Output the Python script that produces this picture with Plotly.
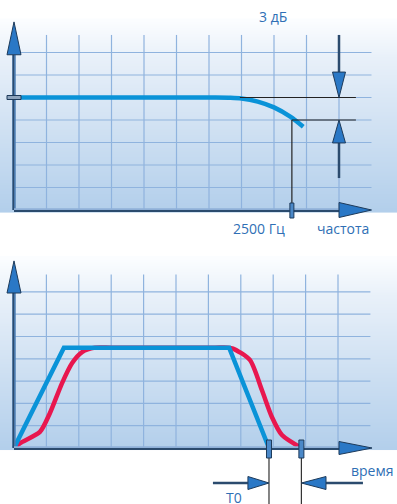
import plotly.graph_objects as go
import numpy as np

# ---------------- data (grid units) ----------------
# top panel: amplitude-frequency response
freq_x = [0, 1, 2, 3, 4, 5, 6, 6.2, 6.6, 7.0, 7.5, 8.0, 8.5, 8.9]
freq_y = [5, 5, 5, 5, 5, 5, 5, 5.0, 4.99, 4.96, 4.82, 4.56, 4.15, 3.7]
cutoff_x = 8.55          # 2500 Гц
level_ref = 5.0          # 0 dB level
level_3db = 4.0          # -3 dB level
ref_line_start = 6.95
ref_line_end = 10.52
dim_arrow_x = 10.0

# bottom panel: input pulse (blue) and output pulse (red)
pulse_in_x = [0, 1.54, 6.64, 7.87]
pulse_in_y = [0, 4.5, 4.5, 0]
pulse_out_x = [0, 0.19, 0.8, 1.11, 1.48, 1.79, 2.1, 2.5, 3.0, 4.5, 6.2, 6.6, 6.76, 7.28, 7.65, 7.96, 8.27, 8.87]
pulse_out_y = [0, 0.22, 0.72, 1.57, 2.9, 3.8, 4.3, 4.5, 4.5, 4.5, 4.5, 4.5, 4.46, 3.95, 2.6, 1.39, 0.58, 0]
t_marks = [7.87, 8.87]

grid_x = [1, 2, 3, 4, 5, 6, 7, 8, 9, 10]
grid_y = [1, 2, 3, 4, 5, 6, 7]

labels_top = {"3 дБ": (7.97, 8.58), "2500 Гц": (7.55, -0.84), "частота": (10.12, -0.84)}
labels_bot = {"время": (11.08, -0.99), "T0": (6.79, -2.2)}

# ---------------- styling ----------------
BLUE = "#0a93d8"
RED = "#e8174f"
GRID = "#8fb3de"
AXIS = "#2b4b6e"
HEAD = "#2a78c6"
TXT = "#2f6fb5"
FONT = "Open Sans"

fig = go.Figure()

# pixel scale helpers (units per px)
sx = 1 / 32.5
sy_top = 1 / 22.5
sy_bot = 1 / 22.3

def add_panel(xa, ya, sy, top_h):
    # gradient background
    ys = np.linspace(0, top_h, 40)
    z = [[v, v] for v in ys]
    fig.add_trace(go.Heatmap(x=[0, 11], y=ys, z=z, xaxis=xa, yaxis=ya, showscale=False,
                             zsmooth="best", hoverinfo="skip",
                             colorscale=[[0, "#b3cfeb"], [0.8, "#e8f0f9"], [1, "#fbfdff"]]))
    gx, gy = [], []
    for g in grid_x:
        gx += [g, g, None]
        gy += [0, 7.78, None]
    for g in grid_y:
        gx += [0, 11, None]
        gy += [g, g, None]
    fig.add_trace(go.Scatter(x=gx, y=gy, mode="lines", xaxis=xa, yaxis=ya,
                             line=dict(color=GRID, width=1.2), hoverinfo="skip"))

add_panel("x", "y", sy_top, 8.4)
add_panel("x2", "y2", sy_bot, 8.5)

fig.add_trace(go.Scatter(x=freq_x, y=freq_y, mode="lines", xaxis="x", yaxis="y",
                         line=dict(color=BLUE, width=4.5, shape="spline", smoothing=0.8)))
fig.add_trace(go.Scatter(x=pulse_out_x, y=pulse_out_y, mode="lines", xaxis="x2", yaxis="y2",
                         line=dict(color=RED, width=4.5, shape="spline", smoothing=0.7)))
fig.add_trace(go.Scatter(x=pulse_in_x, y=pulse_in_y, mode="lines", xaxis="x2", yaxis="y2",
                         line=dict(color=BLUE, width=4.5)))

shapes = []

def line(xr, yr, x0, y0, x1, y1, color=AXIS, w=2.5):
    shapes.append(dict(type="line", xref=xr, yref=yr, x0=x0, y0=y0, x1=x1, y1=y1,
                       line=dict(color=color, width=w)))

def tri(xr, yr, pts):
    p = "M " + " L ".join(f"{a},{b}" for a, b in pts) + " Z"
    shapes.append(dict(type="path", xref=xr, yref=yr, path=p, fillcolor=HEAD,
                       line=dict(color="#1d3a5a", width=1)))

def rect(xr, yr, x0, y0, x1, y1, fill):
    shapes.append(dict(type="rect", xref=xr, yref=yr, x0=x0, y0=y0, x1=x1, y1=y1,
                       fillcolor=fill, line=dict(color="#1d3a5a", width=1)))

# ---- top panel decorations
line("x", "y", 0, 0, 0, 6.9, "#4f7fb3", 3.5)
line("x", "y", -0.02, 0, -0.02, 6.9, AXIS, 1.5)
tri("x", "y", [(-7 * sx, 6.9), (0, 8.36), (7 * sx, 6.9)])
line("x", "y", 0, 0.03, 10.0, 0.03, "#8fb0d8", 2)
line("x", "y", 0, -0.04, 10.0, -0.04, AXIS, 2)
tri("x", "y", [(10.0, 7.5 * sy_top), (11.0, 0), (10.0, -7.5 * sy_top)])
# 3 dB reference lines
line("x", "y", ref_line_start, level_ref, ref_line_end, level_ref, "#222222", 1.2)
line("x", "y", cutoff_x, level_3db, ref_line_end, level_3db, "#222222", 1.2)
line("x", "y", cutoff_x, level_3db, cutoff_x, 0, "#222222", 1.2)
# dimension arrows
line("x", "y", dim_arrow_x, 7.78, dim_arrow_x, 6.13, AXIS, 2.5)
tri("x", "y", [(dim_arrow_x - 6.5 * sx, 6.13), (dim_arrow_x, level_ref), (dim_arrow_x + 6.5 * sx, 6.13)])
line("x", "y", dim_arrow_x, 1.42, dim_arrow_x, 2.98, AXIS, 2.5)
tri("x", "y", [(dim_arrow_x - 6.5 * sx, 2.98), (dim_arrow_x, level_3db), (dim_arrow_x + 6.5 * sx, 2.98)])
# markers
rect("x", "y", -7 * sx, level_ref - 2 * sy_top, 7 * sx, level_ref + 2 * sy_top, "#8ea4bd")
rect("x", "y", cutoff_x - 2 * sx, -8 * sy_top, cutoff_x + 2 * sx, 7 * sy_top, "#4a88c8")

# ---- bottom panel decorations
sx2 = 1 / 32.4
line("x2", "y2", 0, 0, 0, 6.95, "#4f7fb3", 3.5)
line("x2", "y2", -0.02, 0, -0.02, 6.95, AXIS, 1.5)
tri("x2", "y2", [(-7 * sx2, 6.95), (0, 8.39), (7 * sx2, 6.95)])
line("x2", "y2", 0, 0.03, 10.03, 0.03, "#8fb0d8", 2)
line("x2", "y2", 0, -0.04, 10.03, -0.04, AXIS, 2)
tri("x2", "y2", [(10.03, 6.5 * sy_bot), (11.05, 0), (10.03, -6.5 * sy_bot)])
for t in t_marks:
    line("x2", "y2", t, 0, t, -2.6, "#333333", 1.2)
    rect("x2", "y2", t - 2.5 * sx2, -10 * sy_bot, t + 2.5 * sx2, 8 * sy_bot, "#4a88c8")
arrow_y = -1.57
line("x2", "y2", 6.14, arrow_y, 7.22, arrow_y, AXIS, 2.5)
tri("x2", "y2", [(7.22, arrow_y + 6.5 * sy_bot), (t_marks[0], arrow_y), (7.22, arrow_y - 6.5 * sy_bot)])
line("x2", "y2", 10.77, arrow_y, 9.63, arrow_y, AXIS, 2.5)
tri("x2", "y2", [(9.63, arrow_y + 6.5 * sy_bot), (t_marks[1], arrow_y), (9.63, arrow_y - 6.5 * sy_bot)])

annotations = []
for txt, (ax_, ay_) in labels_top.items():
    annotations.append(dict(text=txt, x=ax_, y=ay_, xref="x", yref="y", showarrow=False,
                            font=dict(family=FONT, size=14, color=TXT)))
for txt, (ax_, ay_) in labels_bot.items():
    annotations.append(dict(text=txt, x=ax_, y=ay_, xref="x2", yref="y2", showarrow=False,
                            font=dict(family=FONT, size=14, color=TXT)))

ax_common = dict(visible=False, showgrid=False, zeroline=False, fixedrange=True)
fig.update_layout(
    width=397, height=504, margin=dict(l=0, r=0, t=0, b=0),
    paper_bgcolor="white", plot_bgcolor="rgba(0,0,0,0)", showlegend=False,
    shapes=shapes, annotations=annotations,
    xaxis=dict(domain=[0, 1], range=[-14 * sx, 383 * sx], **ax_common),
    yaxis=dict(domain=[254 / 504, 1], range=[-40 * sy_top, 210 * sy_top], **ax_common),
    xaxis2=dict(domain=[0, 1], range=[-14 * sx2, 383 * sx2], **ax_common),
    yaxis2=dict(domain=[0, 254 / 504], range=[-56 * sy_bot, 198 * sy_bot], **ax_common),
)
fig.write_html("out.html", config={"displayModeBar": False},
               post_script="document.body.style.margin='0';document.body.style.overflow='hidden';")
